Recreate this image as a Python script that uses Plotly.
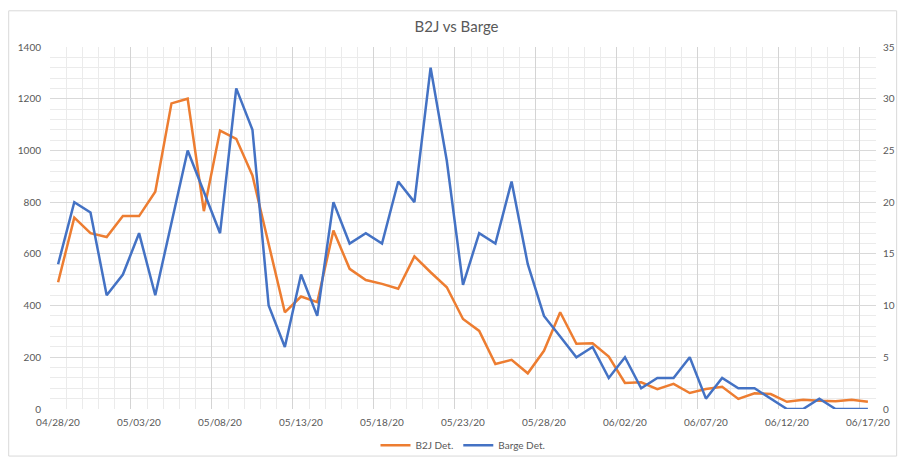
import pandas as pd
import plotly.graph_objects as go

# Daily detections, 04/28/20 through 06/17/20
dates = pd.date_range("2020-04-28 12:00", "2020-06-17 12:00", freq="D")

b2j_det = [490, 740, 680, 665, 746, 746, 840, 1182, 1200, 765,
           1077, 1045, 903, 640, 374, 435, 413, 690, 542, 499,
           484, 465, 590, 529, 471, 348, 302, 174, 190, 138,
           225, 374, 252, 254, 203, 101, 103, 77, 97, 62,
           77, 86, 39, 61, 58, 28, 36, 32, 30, 36, 28]

barge_det = [14, 20, 19, 11, 13, 17, 11, 18, 25, 21,
             17, 31, 27, 10, 6, 13, 9, 20, 16, 17,
             16, 22, 20, 33, 24, 12, 17, 16, 22, 14,
             9, 7, 5, 6, 3, 5, 2, 3, 3, 5,
             1, 3, 2, 2, 1, 0, 0, 1, 0, 0, 0]

ORANGE = "#ED7D31"
BLUE = "#4472C4"
TEXT = "#595959"
FONT = "Lato"

fig = go.Figure()
fig.add_trace(go.Scatter(x=dates, y=b2j_det, name="B2J Det.", mode="lines",
                         line=dict(color=ORANGE, width=2.5)))
fig.add_trace(go.Scatter(x=dates, y=barge_det, name="Barge Det.", mode="lines",
                         line=dict(color=BLUE, width=2.5), yaxis="y2"))

fig.update_layout(
    width=904, height=461,
    margin=dict(l=50, r=28, t=47, b=52, autoexpand=False),
    paper_bgcolor="white", plot_bgcolor="white",
    font=dict(family=FONT, color=TEXT, size=10),
    title=dict(text="B2J vs Barge", x=0.505, xanchor="center", y=0.943, yanchor="middle",
               font=dict(family=FONT, size=15, color=TEXT)),
    showlegend=True,
    legend=dict(orientation="h", x=0.5, xanchor="center", y=-0.1, yanchor="middle",
                font=dict(size=10, color=TEXT), bgcolor="rgba(0,0,0,0)",
                itemwidth=30, tracegroupgap=0),
    xaxis=dict(
        type="date",
        range=["2020-04-28", "2020-06-18"],
        tick0="2020-04-28", dtick=5 * 86400000,
        tickformat="%m/%d/%y",
        ticklabelshift=8,
        ticklabelstandoff=6,
        automargin=False,
        showgrid=True, gridcolor="#D4D4D4", gridwidth=1,
        minor=dict(dtick=86400000, tick0="2020-04-28", showgrid=True,
                   gridcolor="#EBEBEB", gridwidth=1),
        showline=False, zeroline=False, ticks="",
        tickfont=dict(size=10, color=TEXT),
    ),
    yaxis=dict(
        range=[0, 1400], dtick=200, tick0=0,
        showgrid=True, gridcolor="#D9D9D9", gridwidth=1,
        minor=dict(dtick=40, showgrid=True, gridcolor="#EBEBEB", gridwidth=1),
        zeroline=False, showline=False, ticks="",
        ticklabelstandoff=8, automargin=False,
        tickfont=dict(size=10, color=TEXT),
    ),
    yaxis2=dict(
        range=[0, 35], dtick=5, tick0=0,
        overlaying="y", side="right",
        showgrid=False, zeroline=False, showline=False, ticks="",
        ticklabelstandoff=6, automargin=False,
        tickfont=dict(size=10, color=TEXT),
    ),
    shapes=[dict(type="rect", xref="paper", yref="paper",
                 x0=-0.05, x1=1.025, y0=-0.13, y1=1.1,
                 line=dict(color="#D9D9D9", width=1), layer="below")],
)

fig.write_html("out.html")
